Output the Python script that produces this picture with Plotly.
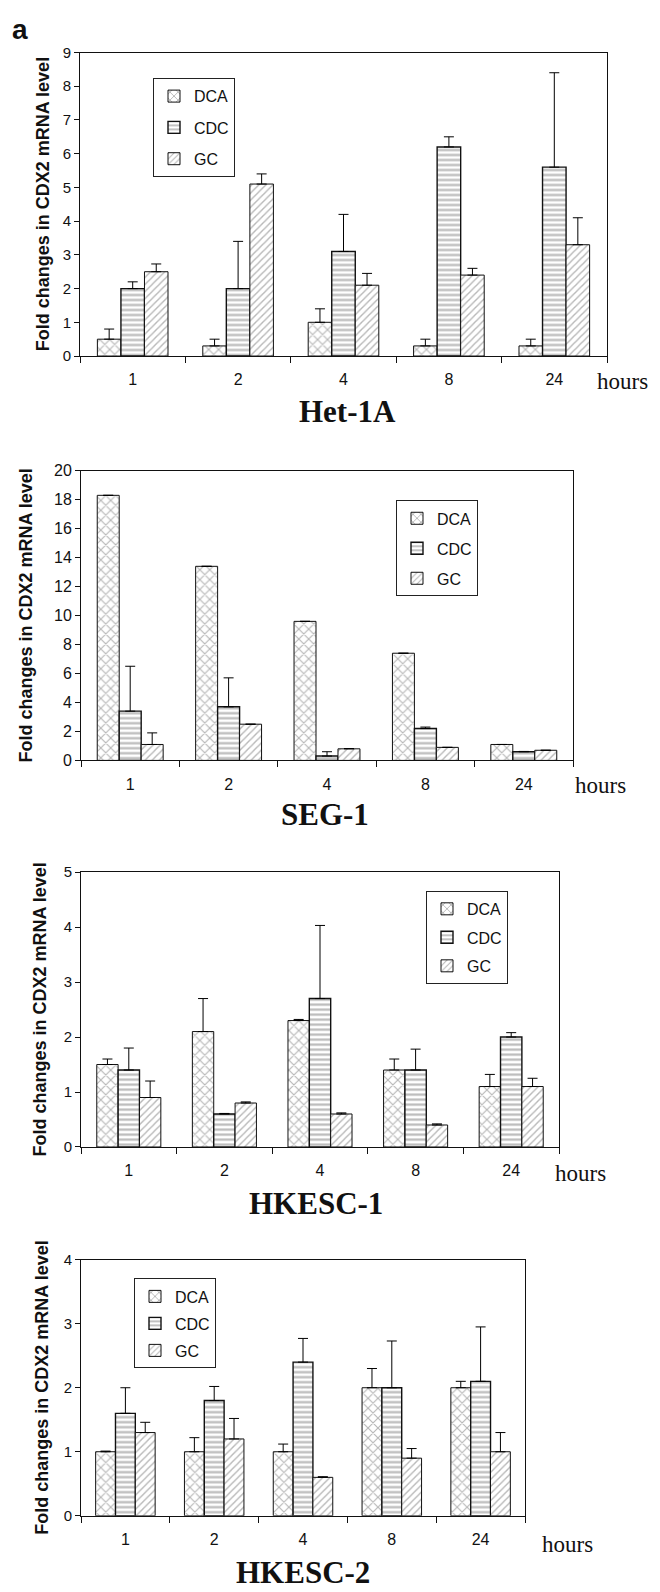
import plotly.graph_objects as go

W, H = 660, 1592

hours = ["1", "2", "4", "8", "24"]
series_names = ["DCA", "CDC", "GC"]
panel_titles = ["Het-1A", "SEG-1", "HKESC-1", "HKESC-2"]
y_title = "Fold changes in CDX2 mRNA level"

# Het-1A
het_dca = [0.5, 0.3, 1.0, 0.3, 0.3]
het_dca_err = [0.3, 0.2, 0.4, 0.2, 0.2]
het_cdc = [2.0, 2.0, 3.1, 6.2, 5.6]
het_cdc_err = [0.2, 1.4, 1.1, 0.3, 2.8]
het_gc = [2.5, 5.1, 2.1, 2.4, 3.3]
het_gc_err = [0.23, 0.3, 0.35, 0.2, 0.8]

# SEG-1
seg_dca = [18.3, 13.4, 9.6, 7.4, 1.1]
seg_dca_err = [None, None, None, None, None]
seg_cdc = [3.4, 3.7, 0.3, 2.2, 0.6]
seg_cdc_err = [3.1, 2.0, 0.3, 0.1, 0.02]
seg_gc = [1.1, 2.5, 0.8, 0.9, 0.7]
seg_gc_err = [0.8, None, 0.02, None, None]

# HKESC-1
hk1_dca = [1.5, 2.1, 2.3, 1.4, 1.1]
hk1_dca_err = [0.1, 0.6, 0.02, 0.2, 0.22]
hk1_cdc = [1.4, 0.6, 2.7, 1.4, 2.0]
hk1_cdc_err = [0.4, 0.01, 1.33, 0.38, 0.08]
hk1_gc = [0.9, 0.8, 0.6, 0.4, 1.1]
hk1_gc_err = [0.3, 0.02, 0.02, 0.02, 0.15]

# HKESC-2
hk2_dca = [1.0, 1.0, 1.0, 2.0, 2.0]
hk2_dca_err = [0.01, 0.22, 0.12, 0.3, 0.1]
hk2_cdc = [1.6, 1.8, 2.4, 2.0, 2.1]
hk2_cdc_err = [0.4, 0.22, 0.37, 0.73, 0.85]
hk2_gc = [1.3, 1.2, 0.6, 0.9, 1.0]
hk2_gc_err = [0.16, 0.32, 0.01, 0.15, 0.3]

y_max = [9, 20, 5, 4]
y_dtick = [1, 2, 1, 1]

values = [
    (het_dca, het_cdc, het_gc),
    (seg_dca, seg_cdc, seg_gc),
    (hk1_dca, hk1_cdc, hk1_gc),
    (hk2_dca, hk2_cdc, hk2_gc),
]
errors = [
    (het_dca_err, het_cdc_err, het_gc_err),
    (seg_dca_err, seg_cdc_err, seg_gc_err),
    (hk1_dca_err, hk1_cdc_err, hk1_gc_err),
    (hk2_dca_err, hk2_cdc_err, hk2_gc_err),
]

# ---- layout (pixels) ----
plot_boxes = [  # left, right, top, bottom
    (80, 607, 44, 351),
    (81, 573, 467, 760),
    (81, 559, 873, 1151),
    (81, 525, 1265, 1524),
]
legend_pos = [(153, 70, 7.5), (396, 497, 6.2), (426, 892, 4.7), (134, 1284, 3.2)]
hours_pos = [(595, 377), (573, 785), (553, 1178), (540, 1553)]
title_pos = [(347, 407), (325, 815), (316, 1208), (303, 1581)]
ytitle_x = [43, 26, 40, 42]
ytick_size = [15, 16, 15, 15]

SANS = "Liberation Sans, Arial, sans-serif"
SERIF = "Liberation Serif, Times New Roman, serif"

patterns = [
    dict(shape="x", size=7, solidity=0.3, fgcolor="#6e6e6e", bgcolor="white"),
    dict(shape="-", size=5, solidity=0.45, fgcolor="#777777", bgcolor="white"),
    dict(shape="/", size=5, solidity=0.28, fgcolor="#707070", bgcolor="white"),
]
line_widths = [1, 1.4, 1]


def fx(p):
    return p / W


def fy(p):
    return 1 - p / H


fig = go.Figure()
annotations = []
layout = dict(
    width=W, height=H, margin=dict(l=0, r=0, t=0, b=0),
    paper_bgcolor="white", plot_bgcolor="white",
    bargap=0.33, bargroupgap=0, barmode="group",
    font=dict(family=SANS, color="black"),
)

for i in range(4):
    n = i + 1
    xa = "x" if n == 1 else f"x{n}"
    ya = "y" if n == 1 else f"y{n}"
    lg = "legend" if n == 1 else f"legend{n}"
    for s in range(3):
        errs = errors[i][s]
        fig.add_trace(go.Bar(
            x=hours, y=values[i][s], name=series_names[s],
            xaxis=xa, yaxis=ya, legend=lg,
            legendgroup=f"p{n}{series_names[s]}",
            marker=dict(color="white", line=dict(color="#111", width=line_widths[s]),
                        pattern=patterns[s]),
            error_y=dict(type="data", array=errs, symmetric=False,
                         arrayminus=[0 if e is not None else None for e in errs],
                         color="black", thickness=1, width=5),
            offsetgroup=str(s),
        ))
    L, R, T, B = plot_boxes[i]
    xkey = "xaxis" if n == 1 else f"xaxis{n}"
    ykey = "yaxis" if n == 1 else f"yaxis{n}"
    layout[xkey] = dict(
        domain=[fx(L), fx(R)], anchor=ya, type="category",
        showline=True, linecolor="#111", linewidth=1, mirror=True,
        ticks="outside", tickson="boundaries", ticklen=6, tickcolor="#111",
        ticklabelstandoff=9,
        showgrid=False, zeroline=False,
        tickfont=dict(family=SANS, size=16, color="#111"),
    )
    layout[ykey] = dict(
        domain=[fy(B), fy(T)], anchor=xa, range=[0, y_max[i]], dtick=y_dtick[i],
        showline=True, linecolor="#111", linewidth=1, mirror=True,
        ticks="outside", ticklen=5, tickcolor="#111",
        showgrid=False, zeroline=False,
        tickfont=dict(family=SANS, size=ytick_size[i], color="#111"),
    )
    lx, ly, gap = legend_pos[i]
    layout[lg] = dict(
        x=fx(lx), y=fy(ly), xanchor="left", yanchor="top",
        bordercolor="#222", borderwidth=1, bgcolor="white",
        font=dict(family=SANS, size=16, color="#111"),
        traceorder="grouped", tracegroupgap=gap, itemwidth=30,
    )
    hx, hy = hours_pos[i]
    annotations.append(dict(
        x=fx(hx), y=fy(hy), xref="paper", yref="paper", text="hours",
        showarrow=False, xanchor="left", yanchor="middle",
        font=dict(family=SERIF, size=23, color="#111"),
    ))
    tx, ty = title_pos[i]
    annotations.append(dict(
        x=fx(tx), y=fy(ty), xref="paper", yref="paper",
        text=f"<b>{panel_titles[i]}</b>",
        showarrow=False, xanchor="center", yanchor="middle",
        font=dict(family=SERIF, size=31, color="#111"),
    ))
    annotations.append(dict(
        x=fx(ytitle_x[i]), y=fy((T + B) / 2), xref="paper", yref="paper",
        text=f"<b>{y_title}</b>", textangle=-90,
        showarrow=False, xanchor="center", yanchor="middle",
        font=dict(family=SANS, size=18, color="#111"),
    ))

annotations.append(dict(
    x=fx(20), y=fy(21), xref="paper", yref="paper", text="<b>a</b>",
    showarrow=False, xanchor="center", yanchor="middle",
    font=dict(family=SANS, size=28, color="#111"),
))
layout["annotations"] = annotations

fig.update_layout(**layout)
fig.write_html(
    "out.html",
    config={"displayModeBar": False},
    post_script="document.body.style.margin='0';document.body.style.overflow='hidden';",
)
